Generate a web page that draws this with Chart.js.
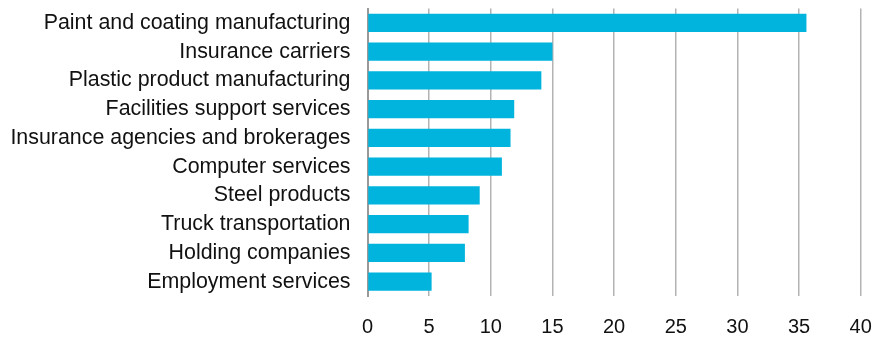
<!DOCTYPE html>
<html>
<head>
<meta charset="utf-8">
<script src="https://cdn.jsdelivr.net/npm/chart.js@4/dist/chart.umd.min.js"></script>
<style>
  html, body { margin: 0; padding: 0; background: #ffffff; }
  #wrap { width: 879px; height: 339px; }
</style>
</head>
<body>
<div id="wrap"><canvas id="c" width="879" height="339"></canvas></div>
<script>
// Industries, top to bottom
const categories = [
  'Paint and coating manufacturing',
  'Insurance carriers',
  'Plastic product manufacturing',
  'Facilities support services',
  'Insurance agencies and brokerages',
  'Computer services',
  'Steel products',
  'Truck transportation',
  'Holding companies',
  'Employment services'
];

// Value per industry
const values = [35.6, 15.0, 14.1, 11.9, 11.6, 10.9, 9.1, 8.2, 7.9, 5.2];

// Horizontal axis
const xMin = 0;
const xMax = 40;
const xStep = 5;

const FONT = '"Liberation Sans", Arial, Helvetica, sans-serif';

new Chart(document.getElementById('c'), {
  type: 'bar',
  data: {
    labels: categories,
    datasets: [{
      data: values,
      backgroundColor: '#00B4DD',
      borderWidth: 0,
      barPercentage: 0.63,
      categoryPercentage: 1.0
    }]
  },
  options: {
    indexAxis: 'y',
    responsive: false,
    animation: false,
    devicePixelRatio: 1,
    layout: { padding: { top: 8.5, right: 18.3, bottom: 0, left: 0 } },
    plugins: {
      legend: { display: false },
      tooltip: { enabled: false }
    },
    scales: {
      x: {
        min: xMin,
        max: xMax,
        ticks: {
          stepSize: xStep,
          color: '#111111',
          font: { family: FONT, size: 20 },
          padding: 19
        },
        grid: {
          color: (ctx) => ctx.tick && ctx.tick.value === 0 ? 'rgba(0,0,0,0)' : '#b3b3b3',
          lineWidth: 1.5,
          drawTicks: false
        },
        border: { display: false },
        afterFit: (s) => { s.height = 43; s.paddingLeft = 0; s.paddingRight = 0; }
      },
      y: {
        ticks: {
          color: '#111111',
          font: { family: FONT, size: 21.4 },
          padding: 17
        },
        grid: { display: false, drawTicks: false },
        border: { display: true, color: '#999999', width: 2 },
        afterFit: (s) => { s.width = 367.5; s.paddingTop = 0; s.paddingBottom = 0; }
      }
    }
  }
});
</script>
</body>
</html>
